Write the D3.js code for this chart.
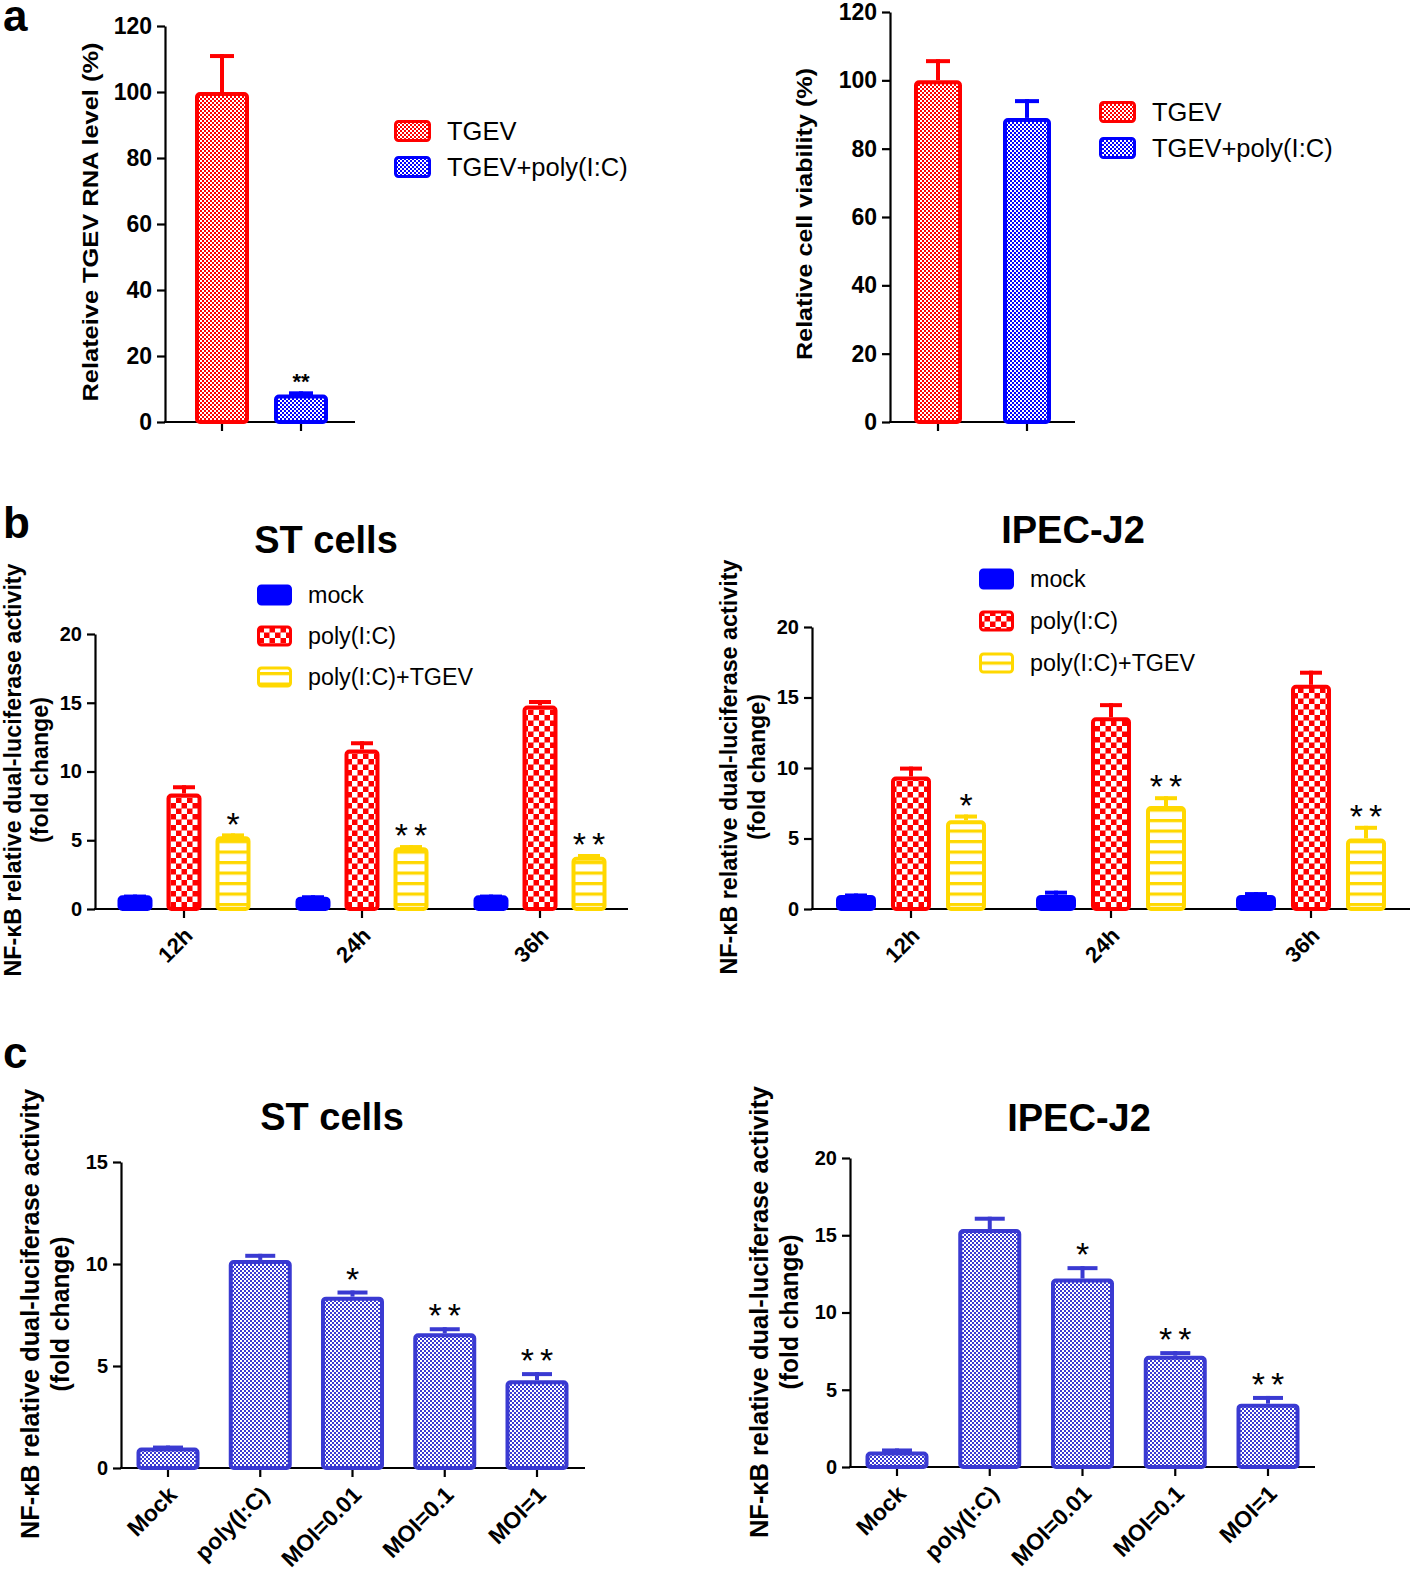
<!DOCTYPE html>
<html><head><meta charset="utf-8">
<script src="https://cdn.jsdelivr.net/npm/d3@7/dist/d3.min.js"></script>
<style>body{margin:0;background:#fff}svg{display:block}text{font-family:"Liberation Sans",Arial,sans-serif}</style>
</head><body>
<svg id="c" width="1418" height="1572"></svg>
<script>
// ---------- DATA ----------
// Panel a (left): relative TGEV RNA level
const aCats = ["TGEV", "TGEV+poly(I:C)"];
const aRnaVals = [100, 8.3];
const aRnaErr = [111.5, 9.3];
const aRnaSig = ["", "**"];
// Panel a (right): relative cell viability
const aViaVals = [100, 89];
const aViaErr = [106.2, 94.5];
const aTicks = [0, 20, 40, 60, 80, 100, 120];
// Panel b
const bGroups = ["12h", "24h", "36h"];
const bSeries = ["mock", "poly(I:C)", "poly(I:C)+TGEV"];
const bStVals = [[1.0, 8.4, 5.3], [0.9, 11.6, 4.5], [1.0, 14.8, 3.8]];
const bStErr = [[1.05, 9.0, 5.5], [1.0, 12.2, 4.65], [1.05, 15.2, 4.0]];
const bStSig = [["", "", "*"], ["", "", "**"], ["", "", "**"]];
const bIpVals = [[1.0, 9.4, 6.3], [1.0, 13.6, 7.3], [1.0, 15.9, 5.0]];
const bIpErr = [[1.1, 10.1, 6.7], [1.3, 14.6, 8.0], [1.2, 16.9, 5.9]];
const bIpSig = [["", "", "*"], ["", "", "**"], ["", "", "**"]];
const bTicks = [0, 5, 10, 15, 20];
// Panel c
const cCats = ["Mock", "poly(I:C)", "MOI=0.01", "MOI=0.1", "MOI=1"];
const cStVals = [1.0, 10.2, 8.4, 6.6, 4.3];
const cStErr = [1.1, 10.5, 8.7, 6.9, 4.7];
const cStSig = ["", "", "*", "**", "**"];
const cStTicks = [0, 5, 10, 15];
const cIpVals = [1.0, 15.4, 12.2, 7.2, 4.1];
const cIpErr = [1.2, 16.2, 13.0, 7.5, 4.6];
const cIpSig = ["", "", "*", "**", "**"];
const cIpTicks = [0, 5, 10, 15, 20];
const nfLabel = ["NF-κB relative dual-luciferase  activity", "(fold change)"];

// ---------- SETUP ----------
const svg = d3.select("#c");
const defs = svg.append("defs");
const RED = "#ff0000", BLUE = "#0000ff", YEL = "#ffd800", CBLUE = "#3a3ad2";
function checker(id, color, s) {
  const p = defs.append("pattern").attr("id", id).attr("patternUnits", "userSpaceOnUse")
    .attr("width", 2 * s).attr("height", 2 * s);
  p.append("rect").attr("width", 2 * s).attr("height", 2 * s).attr("fill", color);
  p.append("rect").attr("x", 0).attr("y", 0).attr("width", s).attr("height", s).attr("fill", "#fff");
  p.append("rect").attr("x", s).attr("y", s).attr("width", s).attr("height", s).attr("fill", "#fff");
}
checker("pRedS", RED, 2);
checker("pBlueS", BLUE, 2);
checker("pRedL", RED, 5.5);
checker("pCBlue", CBLUE, 2);
(function () {
  const p = defs.append("pattern").attr("id", "pYel").attr("patternUnits", "userSpaceOnUse")
    .attr("width", 10).attr("height", 10.5);
  p.append("rect").attr("width", 10).attr("height", 10.5).attr("fill", "#fff");
  p.append("rect").attr("y", 0).attr("width", 10).attr("height", 3.2).attr("fill", YEL);
})();

const FONT = '"Liberation Sans",Arial,sans-serif';

function yAxis(x, y, fs) {
  const g = svg.append("g").attr("transform", `translate(${x},0)`)
    .call(d3.axisLeft(y).tickValues(y.ticksArr).tickSize(8).tickPadding(5).tickSizeOuter(0));
  g.select(".domain").attr("stroke", "#000").attr("stroke-width", 2.2);
  g.selectAll(".tick line").attr("stroke", "#000").attr("stroke-width", 2.2);
  g.selectAll(".tick text").attr("font-family", FONT).attr("font-weight", "bold")
    .attr("font-size", fs).attr("fill", "#000");
  return g;
}
function xAxisLine(x0, x1, yPix, tickXs, labels, fs) {
  svg.append("line").attr("x1", x0 - 1).attr("x2", x1).attr("y1", yPix).attr("y2", yPix)
    .attr("stroke", "#000").attr("stroke-width", 2.2);
  tickXs.forEach((tx, i) => {
    svg.append("line").attr("x1", tx).attr("x2", tx).attr("y1", yPix).attr("y2", yPix + 9)
      .attr("stroke", "#000").attr("stroke-width", 2.2);
    if (labels) {
      svg.append("text").attr("transform", `translate(${tx + 6},${yPix + 24}) rotate(-45)`)
        .attr("text-anchor", "end").attr("dominant-baseline", "middle")
        .attr("font-weight", "bold").attr("font-size", fs).text(labels[i]);
    }
  });
}
function bar(cx, w, y, v, e, fill, stroke, sw, cap, sig, sigFs, sigSpacing, sigBold, sigGap) {
  const y0 = y(0);
  if (e != null && e > v) {
    svg.append("line").attr("x1", cx).attr("x2", cx).attr("y1", y(v)).attr("y2", y(e))
      .attr("stroke", stroke).attr("stroke-width", sw);
    svg.append("line").attr("x1", cx - cap / 2).attr("x2", cx + cap / 2).attr("y1", y(e) + sw / 2).attr("y2", y(e) + sw / 2)
      .attr("stroke", stroke).attr("stroke-width", sw);
  }
  svg.append("rect").attr("x", cx - w / 2 + sw / 2).attr("y", y(v) + sw / 2)
    .attr("width", w - sw).attr("height", Math.max(0, y0 - y(v) - sw / 2))
    .attr("rx", 3).attr("fill", fill).attr("stroke", stroke).attr("stroke-width", sw);
  if (sig) {
    const top = y(Math.max(e || v, v));
    svg.append("text").attr("x", cx + sigSpacing / 2).attr("y", top - sigGap + 0.3 * sigFs)
      .attr("text-anchor", "middle").attr("font-size", sigFs).attr("letter-spacing", sigSpacing)
      .attr("font-weight", sigBold ? "bold" : "normal")
      .attr("font-family", "DejaVu Sans, sans-serif").text(sig);
  }
}
function yLabel(bx, cy, lines, fs, gap, lens) {
  lines.forEach((l, i) => {
    svg.append("text").attr("transform", `translate(${bx + i * gap},${cy}) rotate(-90)`)
      .attr("text-anchor", "middle").attr("font-weight", "bold").attr("font-size", fs)
      .attr("textLength", lens[i]).attr("lengthAdjust", "spacingAndGlyphs").text(l);
  });
}
function legendItem(x, yc, w, h, fill, stroke, label, fs) {
  svg.append("rect").attr("x", x + 1.5).attr("y", yc - h / 2 + 1.5).attr("width", w - 3).attr("height", h - 3)
    .attr("rx", 3).attr("fill", fill).attr("stroke", stroke).attr("stroke-width", 3);
  svg.append("text").attr("x", x + w + 16).attr("y", yc).attr("dominant-baseline", "central")
    .attr("font-size", fs).text(label);
}
function panelLetter(t, x, y) {
  svg.append("text").attr("x", x).attr("y", y).attr("font-weight", "bold").attr("font-size", 44).text(t);
}
function title(t, x, y) {
  svg.append("text").attr("x", x).attr("y", y).attr("text-anchor", "middle")
    .attr("font-weight", "bold").attr("font-size", 38).text(t);
}

// ---------- PANEL a ----------
panelLetter("a", 3, 31);
// left
{
  const y = d3.scaleLinear().domain([0, 120]).range([422, 26]); y.ticksArr = aTicks;
  const x = d3.scalePoint().domain(aCats).range([222, 301]);
  yAxis(165, y, 23);
  xAxisLine(165, 355, 422, aCats.map(x), null);
  const fills = ["url(#pRedS)", "url(#pBlueS)"], strokes = [RED, BLUE];
  aCats.forEach((c, i) => bar(x(c), 54, y, aRnaVals[i], aRnaErr[i], fills[i], strokes[i], 4, 24, aRnaSig[i], 22, 0, true, 9));
  yLabel(98, 222, ["Relateive TGEV RNA level (%)"], 22, 0, [359]);
  legendItem(394, 131, 37, 22, "url(#pRedS)", RED, aCats[0], 25.5);
  legendItem(394, 167, 37, 22, "url(#pBlueS)", BLUE, aCats[1], 25.5);
}
// right
{
  const y = d3.scaleLinear().domain([0, 120]).range([422, 12]); y.ticksArr = aTicks;
  const x = d3.scalePoint().domain(aCats).range([938, 1027]);
  yAxis(890, y, 23);
  xAxisLine(890, 1075, 422, aCats.map(x), null);
  const fills = ["url(#pRedS)", "url(#pBlueS)"], strokes = [RED, BLUE];
  aCats.forEach((c, i) => bar(x(c), 48, y, aViaVals[i], aViaErr[i], fills[i], strokes[i], 4, 24, "", 24, 0, true, 6));
  yLabel(812, 214, ["Relative cell viability (%)"], 22, 0, [292]);
  legendItem(1099, 112, 37, 22, "url(#pRedS)", RED, aCats[0], 25.5);
  legendItem(1099, 148, 37, 22, "url(#pBlueS)", BLUE, aCats[1], 25.5);
}

// ---------- PANEL b ----------
panelLetter("b", 3, 538);
const bFills = [BLUE, "url(#pRedL)", "url(#pYel)"], bStrokes = [BLUE, RED, YEL];
function groupPanel(vals, errs, sigs, yRange, axisX, axisEnd, gRange, inner, bw) {
  const y = d3.scaleLinear().domain([0, 20]).range(yRange); y.ticksArr = bTicks;
  const x0 = d3.scalePoint().domain(bGroups).range(gRange);
  const x1 = d3.scalePoint().domain(bSeries).range([-inner, inner]);
  yAxis(axisX, y, 20);
  xAxisLine(axisX, axisEnd, y(0), bGroups.map(x0), bGroups, 22);
  bGroups.forEach((g, gi) => bSeries.forEach((s, si) =>
    bar(x0(g) + x1(s), bw, y, vals[gi][si], errs[gi][si], bFills[si], bStrokes[si], 4, 22, sigs[gi][si], 34, 6, false, 8)));
}
groupPanel(bStVals, bStErr, bStSig, [909, 634], 95, 628, [184, 540], 49, 35);
title("ST cells", 326, 553);
yLabel(21, 770, nfLabel, 23, 27, [413, 146]);
bSeries.forEach((s, i) => legendItem(257, 595 + i * 41, 35, 21, bFills[i], bStrokes[i], s, 23.3));

groupPanel(bIpVals, bIpErr, bIpSig, [909, 627], 812, 1410, [911, 1311], 55, 40);
title("IPEC-J2", 1073, 543);
yLabel(737, 767, nfLabel, 23, 28, [415, 146]);
bSeries.forEach((s, i) => legendItem(979, 579 + i * 42, 35, 21, bFills[i], bStrokes[i], s, 23.3));

// ---------- PANEL c ----------
panelLetter("c", 3, 1068);
function catPanel(vals, errs, sigs, ticks, dmax, yRange, axisX, axisEnd, xr) {
  const y = d3.scaleLinear().domain([0, dmax]).range(yRange); y.ticksArr = ticks;
  const x = d3.scalePoint().domain(cCats).range(xr);
  yAxis(axisX, y, 20);
  xAxisLine(axisX, axisEnd, y(0), cCats.map(x), cCats, 23);
  cCats.forEach((c, i) => bar(x(c), 63, y, vals[i], errs[i], "url(#pCBlue)", CBLUE, 4, 30, sigs[i], 34, 6, false, 10));
}
catPanel(cStVals, cStErr, cStSig, cStTicks, 15, [1468, 1162], 121, 585, [168, 537]);
title("ST cells", 332, 1130);
yLabel(39, 1314, nfLabel, 25, 30, [450, 155]);

catPanel(cIpVals, cIpErr, cIpSig, cIpTicks, 20, [1467, 1158], 850, 1315, [897, 1268]);
title("IPEC-J2", 1079, 1131);
yLabel(768, 1312, nfLabel, 25, 30, [452, 155]);
</script>
</body></html>
